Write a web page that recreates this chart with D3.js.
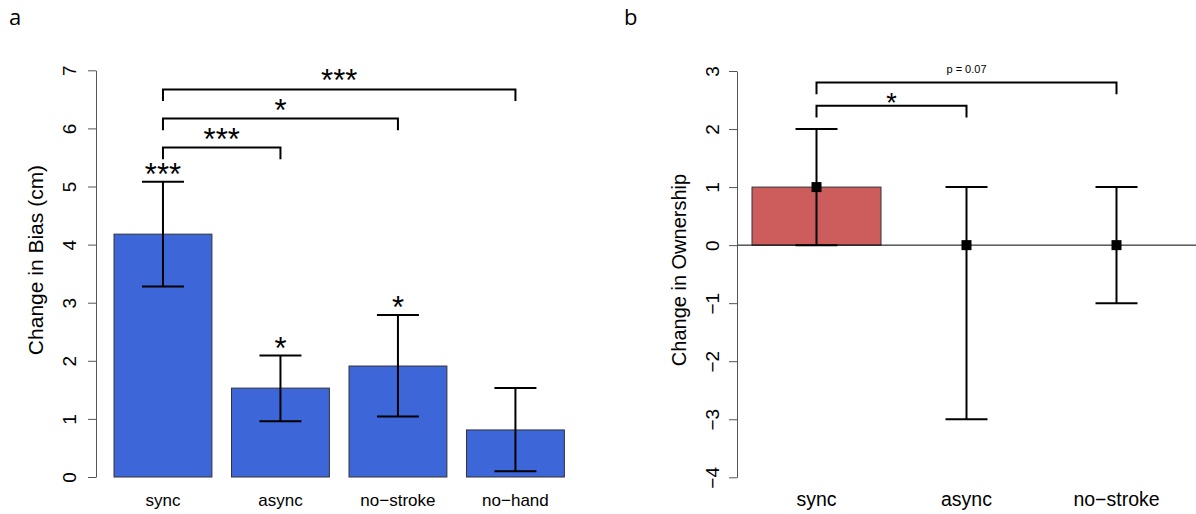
<!DOCTYPE html>
<html>
<head>
<meta charset="utf-8">
<script src="https://cdn.jsdelivr.net/npm/d3@7"></script>
<style>
  body { margin: 0; background: #fff; }
  svg { display: block; font-family: "Liberation Sans", Arial, sans-serif; }
  .axis path, .axis line { stroke: #555; }
</style>
</head>
<body>
<svg id="chart" width="1196" height="514"></svg>
<script>
// panel a: change in bias
var biasCats = ["sync", "async", "no\u2212stroke", "no\u2212hand"];
var biasMean = [4.18, 1.53, 1.91, 0.81];
var biasLow = [3.28, 0.96, 1.04, 0.10];
var biasHigh = [5.08, 2.09, 2.79, 1.53];
var biasStars = ["***", "*", "*", ""];
var biasTicks = [0, 1, 2, 3, 4, 5, 6, 7];
// comparisons vs sync: [target index, bracket height, label]
var biasPairs = [[1, 5.67, "***"], [2, 6.17, "*"], [3, 6.67, "***"]];

// panel b: change in ownership
var ownCats = ["sync", "async", "no\u2212stroke"];
var ownBar = [1, null, null];
var ownMid = [1, 0, 0];
var ownLow = [0, -3, -1];
var ownHigh = [2, 1, 1];
var ownTicks = [-4, -3, -2, -1, 0, 1, 2, 3];
var ownPairs = [[1, 2.4, "*"], [2, 2.8, "p = 0.07"]];

var svg = d3.select("#chart");

// bar centres in barplot units (width 1, space 0.2)
function centre(i) { return 0.7 + 1.2 * i; }

function yAxis(g, y, ticks, labelX) {
    g.attr("class", "axis")
        .call(d3.axisLeft(y).tickValues(ticks).tickSize(8).tickSizeOuter(0)
            .tickFormat(function (d) { return d < 0 ? "\u2212" + Math.abs(d) : d; }));
    g.selectAll(".tick text")
        .attr("transform", "rotate(-90)")
        .attr("x", 0)
        .attr("y", labelX)
        .attr("dy", 0)
        .attr("text-anchor", "middle")
        .attr("fill", "#000")
        .style("font-size", "19px");
}

function bracket(g, x, y, x0, x1, h, drop, label, size, dy) {
    g.append("path")
        .attr("d", "M" + x(x0) + "," + y(h - drop) + "V" + y(h) + "H" + x(x1) + "V" + y(h - drop))
        .attr("fill", "none").attr("stroke", "#000").attr("stroke-width", 2);
    g.append("text")
        .attr("x", (x(x0) + x(x1)) / 2)
        .attr("y", y(h) + dy)
        .attr("text-anchor", "middle")
        .style("font-size", size + "px")
        .text(label);
}

function errorBars(g, x, y, mid, low, high, capHalf) {
    var eb = g.selectAll("g.err").data(mid).enter().append("g").attr("class", "err");
    eb.append("line")
        .attr("x1", function (d, i) { return x(centre(i)); })
        .attr("x2", function (d, i) { return x(centre(i)); })
        .attr("y1", function (d, i) { return y(low[i]); })
        .attr("y2", function (d, i) { return y(high[i]); });
    eb.append("line")
        .attr("x1", function (d, i) { return x(centre(i)) - capHalf; })
        .attr("x2", function (d, i) { return x(centre(i)) + capHalf; })
        .attr("y1", function (d, i) { return y(low[i]); })
        .attr("y2", function (d, i) { return y(low[i]); });
    eb.append("line")
        .attr("x1", function (d, i) { return x(centre(i)) - capHalf; })
        .attr("x2", function (d, i) { return x(centre(i)) + capHalf; })
        .attr("y1", function (d, i) { return y(high[i]); })
        .attr("y2", function (d, i) { return y(high[i]); });
    eb.selectAll("line").attr("stroke", "#000").attr("stroke-width", 2);
}

/**
 * panel a
 */
var xA = d3.scaleLinear().domain([0.016, 4.984]).range([96, 582.4]);
var yA = d3.scaleLinear().domain([0, 7]).range([477, 70.3]);
var gA = svg.append("g");

gA.selectAll("rect.bar").data(biasMean).enter().append("rect")
    .attr("class", "bar")
    .attr("x", function (d, i) { return xA(centre(i) - 0.5); })
    .attr("width", xA(1) - xA(0))
    .attr("y", function (d) { return yA(d); })
    .attr("height", function (d) { return yA(0) - yA(d); })
    .attr("fill", "#3d66d9")
    .attr("stroke", "#333").attr("stroke-width", 1);

errorBars(gA, xA, yA, biasMean, biasLow, biasHigh, 21);

gA.selectAll("text.star").data(biasStars).enter().append("text")
    .attr("class", "star")
    .attr("x", function (d, i) { return xA(centre(i)); })
    .attr("y", function (d, i) { return yA(biasHigh[i]) + 3; })
    .attr("text-anchor", "middle")
    .style("font-size", "31px")
    .text(function (d) { return d; });

biasPairs.forEach(function (p) {
    bracket(gA, xA, yA, centre(0), centre(p[0]), p[1], 0.2, p[2], 31, 2);
});

gA.append("g").attr("transform", "translate(96,0)").call(yAxis, yA, biasTicks, -20);

gA.selectAll("text.cat").data(biasCats).enter().append("text")
    .attr("class", "cat")
    .attr("x", function (d, i) { return xA(centre(i)); })
    .attr("y", 506)
    .attr("text-anchor", "middle")
    .style("font-size", "17px")
    .text(function (d) { return d; });

gA.append("text")
    .attr("transform", "translate(43,260) rotate(-90)")
    .attr("text-anchor", "middle")
    .style("font-size", "21px")
    .text("Change in Bias (cm)");

svg.append("text").attr("x", 9).attr("y", 25)
    .style("font-family", "'Open Sans', sans-serif").style("font-size", "22px")
    .text("a");

/**
 * panel b
 */
var xB = d3.scaleLinear().domain([0.064, 3.736]).range([737, 1196]);
var yB = d3.scaleLinear().domain([-4, 3]).range([477.3, 71]);
var gB = svg.append("g");

gB.selectAll("rect.bar").data(ownBar.filter(function (d) { return d !== null; })).enter().append("rect")
    .attr("class", "bar")
    .attr("x", function (d, i) { return xB(centre(i) - 0.5) - 2; })
    .attr("width", xB(1) - xB(0) + 4)
    .attr("y", function (d) { return yB(d); })
    .attr("height", function (d) { return yB(0) - yB(d); })
    .attr("fill", "#cd5c5c")
    .attr("stroke", "#333").attr("stroke-width", 1);

gB.append("line")
    .attr("x1", xB.range()[0]).attr("x2", xB.range()[1])
    .attr("y1", yB(0)).attr("y2", yB(0))
    .attr("stroke", "#000").attr("stroke-width", 1);

errorBars(gB, xB, yB, ownMid, ownLow, ownHigh, 21);

gB.selectAll("rect.pt").data(ownMid).enter().append("rect")
    .attr("class", "pt")
    .attr("x", function (d, i) { return xB(centre(i)) - 5; })
    .attr("y", function (d) { return yB(d) - 5; })
    .attr("width", 10).attr("height", 10)
    .attr("fill", "#000");

ownPairs.forEach(function (p) {
    if (p[2] === "*") bracket(gB, xB, yB, centre(0), centre(p[0]), p[1], 0.2, p[2], 27, 6);
    else bracket(gB, xB, yB, centre(0), centre(p[0]), p[1], 0.2, p[2], 11, -10);
});

gB.append("g").attr("transform", "translate(737,0)").call(yAxis, yB, ownTicks, -18);

gB.selectAll("text.cat").data(ownCats).enter().append("text")
    .attr("class", "cat")
    .attr("x", function (d, i) { return xB(centre(i)); })
    .attr("y", 506)
    .attr("text-anchor", "middle")
    .style("font-size", "19.5px")
    .text(function (d) { return d; });

gB.append("text")
    .attr("transform", "translate(686,270) rotate(-90)")
    .attr("text-anchor", "middle")
    .style("font-size", "20px")
    .text("Change in Ownership");

svg.append("text").attr("x", 624).attr("y", 25)
    .style("font-family", "'Open Sans', sans-serif").style("font-size", "22px")
    .text("b");
</script>
</body>
</html>
